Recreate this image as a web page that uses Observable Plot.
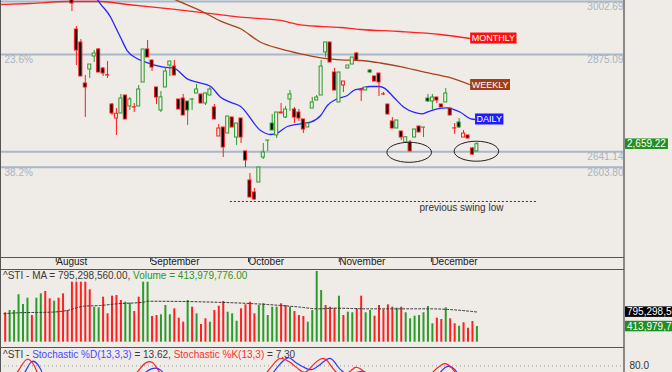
<!DOCTYPE html>
<html><head><meta charset="utf-8">
<script src="https://cdn.jsdelivr.net/npm/d3@7"></script>
<script src="https://cdn.jsdelivr.net/npm/@observablehq/plot@0.6"></script>
<style>
html,body{margin:0;padding:0;background:#EFEBE6;}
#wrap{position:relative;width:672px;height:372px;overflow:hidden;background:#EFEBE6;font-family:"Liberation Sans",Arial,sans-serif;}
.pane{position:absolute;left:0;}
.ln{position:absolute;background:#555;}
.legend{position:absolute;left:3px;font-size:10px;white-space:nowrap;color:#3a3a3a;line-height:12px;}
</style></head><body>
<div id="wrap">
  <div class="pane" id="main" style="top:0"></div>
  <div class="pane" id="vol" style="top:269px"></div>
  <div class="pane" id="sto" style="top:347px"></div>
</div>
<script>
// ---------------- DATA ----------------
const firstCandleIndex = 15;
const candleOpen  = [3012.3,2935.3,2904.0,2805.3,2839.0,2870.3,2887.2,2841.4,2825.2,2754.8,2721.1,2733.1,2776.4,2750.0,2748.0,2750.0,2807.7,2887.2,2860.7,2795.7,2740.3,2795.7,2848.6,2846.2,2766.8,2769.2,2762.0,2766.4,2781.3,2778.9,2757.2,2776.4,2747.6,2677.8,2699.4,2685.0,2723.5,2675.3,2721.1,2641.7,2571.8,2543.0,2567.0,2627.2,2667.8,2709.0,2680.2,2735.5,2723.5,2766.8,2742.7,2735.5,2718.7,2699.4,2745.1,2764.4,2776.4,2880.0,2904.0,2831.8,2759.6,2800.5,2841.4,2851.0,2877.5,2790.9,2788.5,2836.6,2822.2,2829.4,2779.2,2754.8,2713.9,2697.0,2689.8,2663.3,2663.3,2675.3,2701.8,2699.0,2769.2,2762.0,2771.6,2754.8,2759.6,2745.1,2697.3,2711.5,2675.3,2680.2,2648.9,2641.7];
const candleHigh  = [3024.4,2942.5,2911.2,2824.6,2851.0,2884.8,2889.6,2843.8,2858.3,2757.2,2745.1,2778.9,2776.4,2771.6,2757.2,2800.5,2887.2,2908.8,2860.7,2795.7,2786.1,2843.8,2858.3,2860.7,2766.8,2778.9,2762.0,2769.2,2802.9,2778.9,2781.3,2795.7,2754.8,2706.6,2699.4,2725.9,2723.5,2709.0,2721.1,2641.7,2588.7,2552.6,2603.1,2660.9,2668.1,2730.7,2735.5,2757.2,2750.0,2788.5,2747.6,2742.7,2718.7,2709.0,2771.6,2776.4,2860.7,2904.0,2904.0,2841.4,2831.8,2810.1,2848.6,2867.9,2880.0,2790.9,2795.7,2839.0,2822.2,2829.4,2783.7,2754.8,2723.5,2716.3,2689.8,2676.0,2668.1,2694.6,2701.8,2699.4,2778.9,2778.9,2771.6,2754.8,2793.3,2745.1,2709.0,2721.1,2692.2,2680.2,2651.3,2663.3];
const candleLow   = [2978.6,2848.6,2822.2,2723.5,2817.4,2855.9,2831.8,2822.2,2817.4,2728.3,2680.2,2733.1,2718.7,2740.3,2735.5,2750.0,2807.7,2867.9,2834.2,2754.8,2735.5,2795.7,2822.2,2824.6,2742.7,2728.3,2704.2,2740.3,2781.3,2757.2,2752.4,2776.4,2718.7,2677.8,2627.2,2685.0,2699.4,2656.1,2660.9,2603.1,2530.9,2523.7,2567.0,2622.4,2641.7,2692.2,2672.9,2733.1,2721.1,2737.9,2709.0,2713.9,2685.0,2699.4,2745.1,2764.4,2776.4,2867.9,2855.9,2788.5,2759.6,2783.7,2841.4,2851.0,2860.7,2762.0,2788.5,2829.4,2810.1,2774.0,2776.4,2730.7,2697.0,2697.0,2668.1,2660.9,2641.7,2675.3,2687.4,2675.3,2759.6,2740.3,2757.2,2747.6,2759.6,2728.3,2682.6,2697.0,2675.3,2672.9,2632.0,2641.7];
const candleClose = [2997.9,2884.8,2822.2,2795.7,2851.0,2877.5,2831.8,2829.4,2824.6,2733.1,2732.5,2769.2,2718.7,2766.8,2747.6,2790.9,2887.2,2867.9,2843.8,2771.6,2772.0,2834.2,2858.3,2824.6,2742.7,2728.3,2740.3,2766.8,2790.9,2757.2,2781.3,2790.9,2718.7,2697.0,2651.3,2725.9,2699.4,2709.0,2675.3,2620.0,2530.9,2526.1,2603.1,2639.2,2668.1,2692.2,2735.5,2733.1,2742.7,2778.9,2723.5,2721.1,2694.6,2709.0,2759.6,2771.6,2846.2,2904.0,2855.9,2788.5,2831.8,2810.1,2848.6,2867.9,2860.7,2788.5,2795.7,2831.8,2810.1,2807.7,2778.9,2730.7,2697.0,2716.3,2675.3,2676.0,2641.7,2694.6,2687.4,2699.4,2762.0,2771.6,2764.4,2747.6,2781.3,2728.3,2697.0,2699.4,2685.0,2672.9,2634.4,2659.22];

const volumeValues = [778,838,838,1254,997,1164,706,1164,1280,1341,1148,1085,1164,1280,838,1587,1587,1587,1587,1386,926,910,1190,751,1217,1235,1103,1058,1032,812,1190,1587,1587,680,706,725,971,725,883,635,529,1103,926,751,468,619,529,838,952,1077,794,751,555,883,989,1058,751,971,1016,706,926,926,1016,971,926,812,706,680,529,838,1870,1367,971,926,899,1217,706,794,778,883,1217,778,838,688,971,857,989,926,899,926,778,619,688,706,778,944,487,635,600,910,619,487,423,513,370,548,413.979776];
const volumeUp = [0,1,1,1,1,1,0,1,1,0,0,1,0,0,0,0,0,0,0,0,1,1,0,0,0,0,0,1,1,0,0,1,1,0,0,1,1,1,0,0,0,1,0,1,0,0,1,0,0,0,1,1,1,0,0,0,0,1,1,1,1,1,0,0,1,0,0,0,1,1,1,1,0,0,0,1,0,1,1,0,0,1,1,0,0,0,0,0,1,0,1,1,1,1,1,1,1,0,0,1,0,0,1,0,0,0,1];
const volumeMAIndex = [-0.3,2.7,10.2,13.9,17.7,21.4,25.2,31.1,31.9,51.4,58.9,66.4,70.1,74.4,81.9,95.4,100.7,106.3];
const volumeMAValue = [751,778,794,838,952,971,1016,1058,1084,1042,997,926,883,899,883,883,857,795.29856];

const monthlyIndex = [-1.1,5.7,14,21.4,27.5,37.1,46.8,52.9,61.9,66.4,75.3,79.8,88.8,97.8,104.6];
const monthlyValue = [2995.5,2997.9,3002.7,3002.7,2995.5,2985.1,2973.1,2964.9,2957.0,2946.6,2940.1,2935.3,2930.5,2923.3,2913.6];
const weeklyIndex = [36.5,38.6,44.6,48.4,52.9,57.4,61.9,66.4,70.9,75.3,79.8,84.3,88.8,94.2,99.6,104.6];
const weeklyValue = [3015,3005.1,2976.9,2955.3,2937.0,2904.7,2888.8,2876.8,2867.2,2862.4,2860.7,2854.7,2846.2,2832.5,2820.5,2801.7];
const dailyIndex = [20.2,21.4,23.7,24.8,25.9,27.4,29.7,32.7,35.6,37.9,40.9,43.1,46.1,48.4,50.6,52.9,57.4,59.6,61.1,63.4,66.4,68.6,70.9,72.4,74.6,76.9,78.3,79.8,82.1,83.9,85.1,87.3,89.6,91.8,93.7,94.8,97.1,99.3,100.4,102.3,104.6,105.7];
const dailyValue = [3015,2997.2,2964.9,2940.8,2916.8,2884.7,2864.8,2852.7,2844.6,2842.2,2816.6,2808.5,2798.8,2772.4,2760.3,2750.0,2692.2,2682.6,2685.7,2701.8,2708.3,2712.2,2728.3,2752.4,2768.5,2776.4,2788.5,2792.6,2798.1,2798.1,2794.9,2772.4,2748.3,2736.2,2732.4,2736.2,2744.4,2746.8,2744.4,2736.2,2720.3,2718.7];

const stochKIndex = [0,3,5,7,9,15,20,25,29,31,33,35,38,45,52,55,58,61,62.5,64,66,67.5,69,71,72.5,74,76,78,79,80.5,83,88,93,96,98,99,100.5,102,104,106];
const stochKValue = [40,70,95,70,30,5,20,40,60,82,88,60,30,10,5,20,55,92,96,88,72,66,80,96,90,70,60,72,77,68,40,10,30,65,82,85,74,50,20,7.30];
const stochDIndex = [0,4,6,8,10,16,22,27,31,33,35,37,42,50,55,58,61,63.5,65,67.5,69,71,73,74.5,76,78,80,82,85,90,95,98,99.5,101,103,106];
const stochDValue = [30,60,90,72,40,10,20,40,62,74,70,45,20,8,12,35,75,98,90,75,72,85,97,82,66,62,68,60,40,18,35,68,79,72,45,13.62];

const fibLevels = [3002.69, 2875.09, 2641.14, 2603.80];
const fibPercent = ["", "23.6%", "", "38.2%"];
const monthNames = ["August","September","October","November","December"];
const monthTickIndex = [10.8, 32, 54, 74.4, 95.1];
const swingLow = 2521.3, swingFrom = 50.6, swingTo = 119.6, swingTextIndex = 93.1;
const swingText = "previous swing low";
const circledLows = [{i: 90.9, p: 2638.5}, {i: 106, p: 2641.1}];
const maLabels = ["MONTHLY","WEEKLY","DAILY"];

// ---------------- SETUP ----------------
const FONT = '"Liberation Sans", Arial, sans-serif';
const BG = "#EFEBE6", RED = "#ff1a1a", GREEN = "#2a9a2a";
const X_DOMAIN = [-1.056, 139.17];
const W = 672, MR = 48;
const pts = (xs, ys) => xs.map((x, k) => ({x, y: ys[k]}));

const candles = candleOpen.map((o, k) => {
  const c = candleClose[k];
  const prev = k === 0 ? o : candleClose[k - 1];
  return {i: firstCandleIndex + k, o, h: candleHigh[k], l: candleLow[k], c, up: c > prev};
});
const vols = volumeValues.map((v, k) => ({i: k, v: v * 1e6, up: volumeUp[k] === 1}));
const volMA = pts(volumeMAIndex, volumeMAValue.map(v => v * 1e6));
const baseStyle = {background: "transparent", fontFamily: FONT, fontSize: "10px", overflow: "hidden"};

// ---------------- MAIN PANE ----------------
const mainPlot = Plot.plot({
  width: W, height: 269, marginLeft: 0, marginRight: MR, marginTop: 0, marginBottom: 12,
  style: baseStyle,
  x: {domain: X_DOMAIN, axis: null},
  y: {domain: [2386.5, 3005.1], axis: null},
  color: {type: "identity"},
  marks: [
    Plot.ruleY(fibLevels, {stroke: "#a8b7ca", strokeWidth: 2}),
    Plot.text(fibLevels, {y: d => d, text: d => d.toFixed(2), frameAnchor: "right", textAnchor: "end", lineAnchor: "top", dx: -1, dy: 1.5, fill: "#a6b3c3", fontSize: 10}),
    Plot.text(fibLevels.map((v, k) => ({v, t: fibPercent[k]})).filter(d => d.t), {y: "v", text: "t", frameAnchor: "left", textAnchor: "start", lineAnchor: "top", dx: 4, dy: 1.5, fill: "#a6b3c3", fontSize: 10}),
    Plot.line(pts(monthlyIndex, monthlyValue), {x: "x", y: "y", stroke: "#ff2222", strokeWidth: 1.3, curve: "monotone-x", clip: true}),
    Plot.line(pts(weeklyIndex, weeklyValue), {x: "x", y: "y", stroke: "#a4441c", strokeWidth: 1.3, curve: "monotone-x", clip: true}),
    Plot.line(pts(dailyIndex, dailyValue), {x: "x", y: "y", stroke: "#2626ff", strokeWidth: 1.3, curve: "monotone-x", clip: true}),
    Plot.ruleX(candles, {x: "i", y1: "l", y2: "h", stroke: d => d.up ? GREEN : RED, strokeWidth: 1, clip: true}),
    Plot.rect(candles, {x1: d => d.i - 0.34, x2: d => d.i + 0.34, y1: "o", y2: "c", fill: d => d.c < d.o ? "#000" : BG, stroke: d => d.up ? GREEN : RED, strokeWidth: 1, clip: true}),
    Plot.ruleY([swingLow], {x1: swingFrom, x2: swingTo, stroke: "#333", strokeDasharray: "2,2"}),
    Plot.text([swingText], {x: swingTextIndex, y: swingLow, text: d => d, textAnchor: "start", lineAnchor: "top", dy: 2, fill: "#333", fontSize: 10}),
    Plot.axisX(monthTickIndex, {anchor: "bottom", tickSize: 5, tickPadding: -5, textAnchor: "start", dx: 3, tickFormat: d => monthNames[monthTickIndex.indexOf(d)], fill: "#222", stroke: "#333", fontSize: 10})
  ]
});
document.getElementById("main").appendChild(mainPlot);

// ---------------- VOLUME PANE ----------------
const volPlot = Plot.plot({
  width: W, height: 78, marginLeft: 0, marginRight: MR, marginTop: 0, marginBottom: 0,
  style: baseStyle,
  x: {domain: X_DOMAIN, axis: null},
  y: {domain: [0, 1923e6], range: [72.7, 0], axis: null},
  color: {type: "identity"},
  marks: [
    Plot.ruleX(vols, {x: "i", y1: 0, y2: "v", stroke: d => d.up ? "#2b9b2b" : "#ff1f1f", strokeWidth: 2}),
    Plot.line(volMA, {x: "x", y: "y", stroke: "#333", strokeWidth: 1, strokeDasharray: "2,2", curve: "monotone-x"})
  ]
});
document.getElementById("vol").appendChild(volPlot);

// ---------------- STOCHASTIC PANE ----------------
const stoPlot = Plot.plot({
  width: W, height: 25, marginLeft: 0, marginRight: MR, marginTop: 0, marginBottom: 0,
  style: baseStyle,
  x: {domain: X_DOMAIN, axis: null},
  y: {domain: [0, 100], range: [54, 9.5], axis: null},
  marks: [
    Plot.ruleY([80], {stroke: "#999", strokeDasharray: "1,3"}),
    Plot.line(pts(stochDIndex, stochDValue), {x: "x", y: "y", stroke: "#3535ff", strokeWidth: 1.2, curve: "natural", clip: true}),
    Plot.line(pts(stochKIndex, stochKValue), {x: "x", y: "y", stroke: "#ff2020", strokeWidth: 1.2, curve: "natural", clip: true}),
    Plot.text([80], {y: d => d, text: d => d.toFixed(1), frameAnchor: "right", textAnchor: "start", dx: 5, fill: "#333", fontSize: 10})
  ]
});
document.getElementById("sto").appendChild(stoPlot);

// ---------------- ANNOTATIONS (using the plots' scales) ----------------
function tag(svg, x, yc, text, bg, fg, size, h, pad) {
  const g = d3.select(svg).append("g").attr("text-anchor", "start");
  const t = g.append("text").attr("x", x + pad).attr("y", yc).attr("dy", "0.36em")
    .attr("text-anchor", "start").attr("fill", fg).attr("font-size", size).attr("font-family", FONT).text(text);
  const w = t.node().getComputedTextLength() + 2 * pad;
  g.insert("rect", "text").attr("x", x).attr("y", yc - h / 2).attr("width", w).attr("height", h).attr("fill", bg);
}
const sx = mainPlot.scale("x"), sy = mainPlot.scale("y");
const lineEnds = [
  [monthlyIndex, monthlyValue, "#ff1010"],
  [weeklyIndex, weeklyValue, "#a23e16"],
  [dailyIndex, dailyValue, "#1c1cff"]
];
lineEnds.forEach(([xs, ys, col], k) => {
  const n = xs.length - 1;
  tag(mainPlot, sx.apply(xs[n]), sy.apply(ys[n]), maLabels[k], col, "#fff", 9, 11, 1.5);
});
const ov = d3.select(mainPlot).append("g");
circledLows.forEach(d => {
  ov.append("ellipse").attr("cx", sx.apply(d.i)).attr("cy", sy.apply(d.p)).attr("rx", 22.3).attr("ry", 10)
    .attr("fill", "none").attr("stroke", "#222").attr("stroke-width", 1);
});
const last = candleClose[candleClose.length - 1];
tag(mainPlot, W - MR + 1, sy.apply(last), d3.format(",.2f")(last), "#1f8f1f", "#fff", 10, 10.5, 2);

const vy = volPlot.scale("y");
const maLast = volumeMAValue[volumeMAValue.length - 1] * 1e6;
const volLast = volumeValues[volumeValues.length - 1] * 1e6;
tag(volPlot, W - MR + 1, vy.apply(maLast), d3.format(",.2f")(maLast), "#000", "#fff", 10, 10.5, 2);
tag(volPlot, W - MR + 1, vy.apply(volLast), d3.format(",.2f")(volLast), "#1f8f1f", "#fff", 10, 10.5, 2);

// ---------------- LEGENDS & FRAME ----------------
const wrap = document.getElementById("wrap");
const f2 = d3.format(",.2f");
const vl = document.createElement("div");
vl.className = "legend"; vl.style.top = "270px";
vl.innerHTML = `^STI - MA = ${f2(maLast)}, <span style="color:#2a962a">Volume = ${f2(volLast)}</span>`;
wrap.appendChild(vl);
const sl = document.createElement("div");
sl.className = "legend"; sl.style.top = "348.5px";
sl.innerHTML = `^STI - <span style="color:#4848ff">Stochastic %D(13,3,3)</span> = ${stochDValue[stochDValue.length-1].toFixed(2)}, <span style="color:#ff3030">Stochastic %K(13,3)</span> = ${stochKValue[stochKValue.length-1].toFixed(2)}`;
wrap.appendChild(sl);
[["0px","0px","1px","372px"],["623px","0px","2px","372px"],["0px","256.5px","624px","1px"],["0px","268.5px","624px","1.5px"],["0px","346.5px","624px","1.5px"]]
  .forEach(([l,t,w,h]) => { const d = document.createElement("div"); d.className = "ln";
    Object.assign(d.style, {left:l, top:t, width:w, height:h}); if (l === "623px") d.style.background = "#8a8a8a"; wrap.appendChild(d); });
</script></body></html>
